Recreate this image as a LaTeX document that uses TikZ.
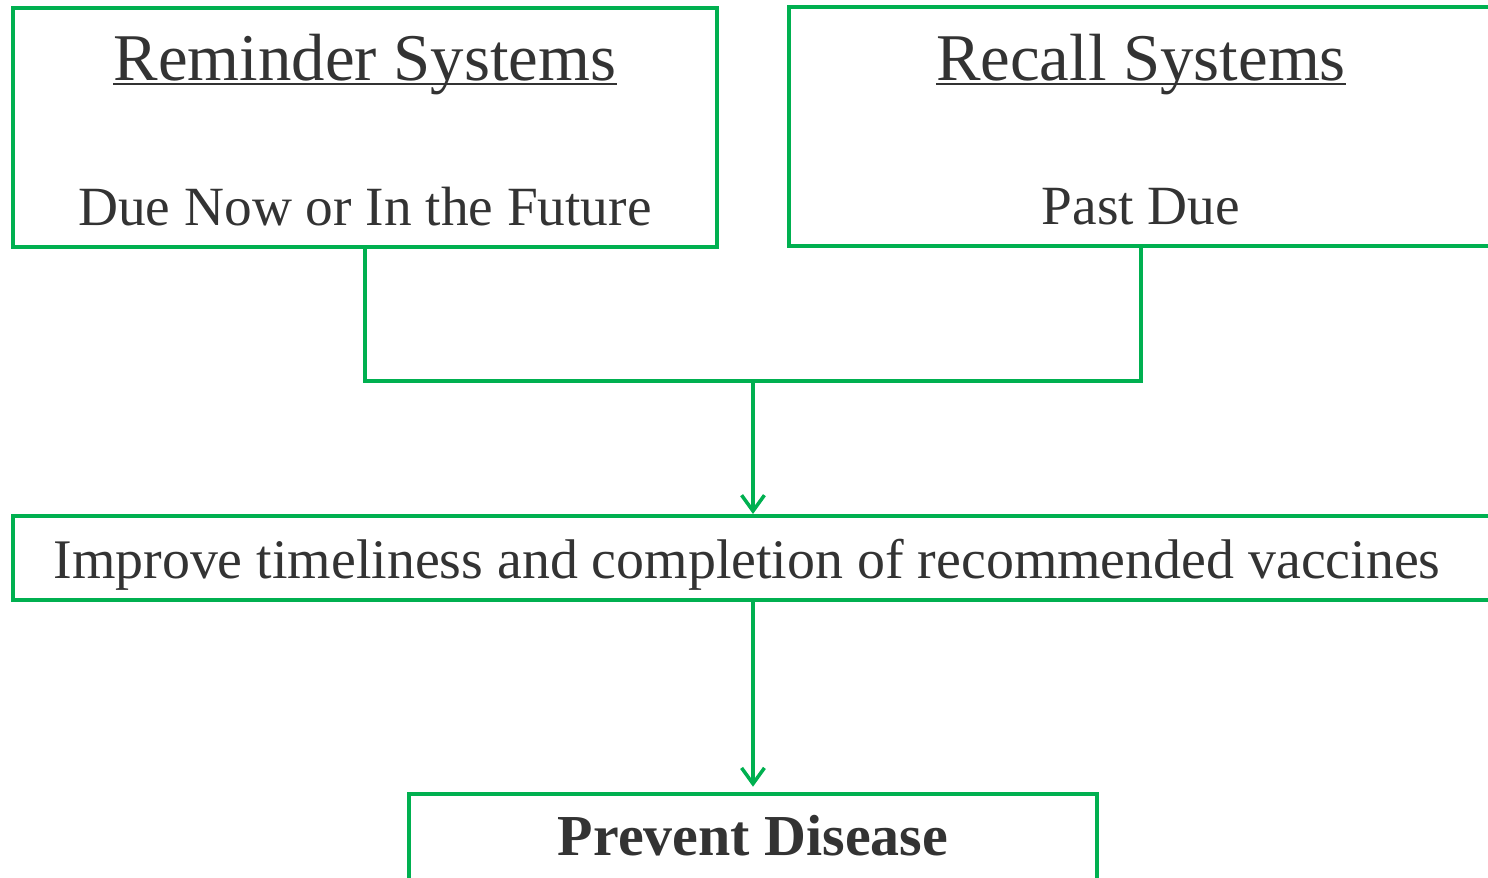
\documentclass[tikz,border=0pt]{standalone}
\usepackage{fontspec}
\setmainfont{Liberation Serif}
\usepackage{tikz}
\usetikzlibrary{arrows.meta,positioning}
\usepackage{xcolor}
\definecolor{boxgreen}{RGB}{0,176,80}
\definecolor{inkgray}{RGB}{51,51,51}

\begin{document}
\begin{tikzpicture}[
    x=0.02cm, y=-0.02cm,
    box/.style={draw=boxgreen, line width=2.3pt, inner sep=0pt},
    arr/.style={-{Straight Barb[length=9pt, width=13pt, line width=2pt]}, draw=boxgreen, line width=2.3pt},
    link/.style={draw=boxgreen, line width=2.3pt},
    ttl/.style={anchor=base, inner sep=0pt, text=inkgray, font=\fontsize{38}{42}\selectfont},
    uline/.style={draw=inkgray, line width=1.5pt},
    lbl/.style={anchor=base, text=inkgray, font=\fontsize{31.5}{36}\selectfont},
  ]

  \useasboundingbox (0,0) rectangle (1488,877);
  \clip (0,0) rectangle (1488,877);

  % Top boxes
  \node[box, minimum width=14.08cm, minimum height=4.78cm] (reminder) at (365,127.5) {};
  \node[ttl] (remindertitle) at (365,80) {Reminder Systems};
  \draw[uline] ([yshift=-2.2pt]remindertitle.base west) -- ([yshift=-2.2pt]remindertitle.base east);
  \node[lbl] (remindertext) at (365,225) {Due Now or In the Future};

  \node[box, minimum width=14.08cm, minimum height=4.78cm] (recall) at (1141,126.5) {};
  \node[ttl] (recalltitle) at (1141,80) {Recall Systems};
  \draw[uline] ([yshift=-2.2pt]recalltitle.base west) -- ([yshift=-2.2pt]recalltitle.base east);
  \node[lbl] (recalltext) at (1141,224) {Past Due};

  % Joining lines
  \coordinate (join) at (753,381);
  \draw[link] (reminder.south) |- (join);
  \draw[link] (recall.south) |- (join);

  % Middle box
  \node[box, minimum width=29.6cm, minimum height=1.68cm] (improve) at (753,558) {};
  \node[lbl, font=\fontsize{31.8}{36}\selectfont] (improvetext) at (747,578)
    {Improve timeliness and completion of recommended vaccines};
  \draw[arr] (join) -- (improve.north);

  % Bottom box
  \node[box, minimum width=13.76cm, minimum height=1.72cm] (prevent) at (753,837) {};
  \node[lbl, font=\fontsize{33}{38}\selectfont\bfseries] (preventtext) at (753,855) {Prevent Disease};
  \draw[arr, shorten >=3pt] (improve.south) -- (prevent.north);

\end{tikzpicture}
\end{document}
